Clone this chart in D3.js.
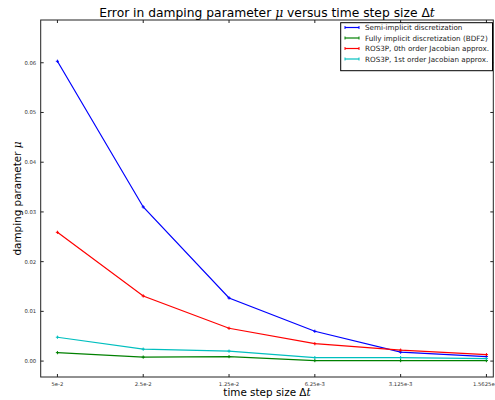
<!DOCTYPE html>
<html><head><meta charset="utf-8">
<script src="https://cdn.jsdelivr.net/npm/d3@7"></script>
<style>body{margin:0;background:#fff}svg{display:block;font-family:"DejaVu Sans",sans-serif}</style>
</head><body><svg id="c" width="495" height="400"></svg>
<script>
const categories = ["5e-2","2.5e-2","1.25e-2","6.25e-3","3.125e-3","1.5625e-3"];
const semiImplicit = [0.0603,0.0310,0.0127,0.0060,0.0018,0.0009];
const fullyImplicit = [0.0017,0.0008,0.0009,0.0001,0.0001,0.0001];
const ros3p0 = [0.0259,0.0131,0.0066,0.0035,0.0022,0.0013];
const ros3p1 = [0.0048,0.0024,0.0020,0.0007,0.0007,0.0005];
const yTicks = [0,0.01,0.02,0.03,0.04,0.05,0.06];
const seriesNames = ["Semi-implicit discretization","Fully implicit discretization (BDF2)","ROS3P, 0th order Jacobian approx.","ROS3P, 1st order Jacobian approx."];
const series = [
  {name:seriesNames[0], values:semiImplicit, color:"#0000ff"},
  {name:seriesNames[1], values:fullyImplicit, color:"#008000"},
  {name:seriesNames[2], values:ros3p0, color:"#ff0000"},
  {name:seriesNames[3], values:ros3p1, color:"#00bfbf"}
];
const svg = d3.select("#c");
const L=40.7, R=493.3, T=20, B=377;
const x = d3.scaleLinear().domain([-0.195,5.08]).range([L,R]);
const y = d3.scaleLinear().domain([-0.0032,0.0686]).range([B,T]);

svg.append("rect").attr("x",L).attr("y",T).attr("width",R-L).attr("height",B-T)
  .attr("fill","none").attr("stroke","#222").attr("stroke-width",1);

const tk=3;
categories.forEach((c,i)=>{
  const px=x(i);
  svg.append("line").attr("x1",px).attr("x2",px).attr("y1",B).attr("y2",B-tk).attr("stroke","#222");
  svg.append("line").attr("x1",px).attr("x2",px).attr("y1",T).attr("y2",T+tk).attr("stroke","#222");
  svg.append("text").attr("x",px).attr("y",386).attr("text-anchor","middle")
    .attr("font-size",5.3).attr("fill","#333").text(c);
});
yTicks.forEach(v=>{
  const py=y(v);
  svg.append("line").attr("x1",L).attr("x2",L+tk).attr("y1",py).attr("y2",py).attr("stroke","#222");
  svg.append("line").attr("x1",R).attr("x2",R-tk).attr("y1",py).attr("y2",py).attr("stroke","#222");
  svg.append("text").attr("x",L-4.5).attr("y",py+1.9).attr("text-anchor","end")
    .attr("font-size",5.3).attr("fill","#333").text(v.toFixed(2));
});

const line = d3.line().x((d,i)=>x(i)).y(d=>y(d));
series.forEach(s=>{
  svg.append("path").datum(s.values).attr("d",line).attr("fill","none")
    .attr("stroke",s.color).attr("stroke-width",1.2);
  s.values.forEach((v,i)=>{
    const px=x(i), py=y(v);
    svg.append("path").attr("d",`M${px-1.6},${py}H${px+1.6}M${px},${py-1.6}V${py+1.6}`)
      .attr("stroke",s.color).attr("stroke-width",1);
  });
});

const title = svg.append("text").attr("x",(L+R)/2).attr("y",17).attr("text-anchor","middle")
  .attr("font-size",12.3).attr("fill","#000");
title.append("tspan").text("Error in damping parameter ");
title.append("tspan").attr("font-style","italic").attr("font-family","DejaVu Serif").text("μ");
title.append("tspan").text(" versus time step size Δ");
title.append("tspan").attr("font-style","italic").attr("font-family","DejaVu Serif").text("t");

const xl = svg.append("text").attr("x",(L+R)/2).attr("y",396).attr("text-anchor","middle")
  .attr("font-size",10.4).attr("fill","#000");
xl.append("tspan").text("time step size Δ");
xl.append("tspan").attr("font-style","italic").attr("font-family","DejaVu Serif").text("t");

const yl = svg.append("text").attr("transform",`translate(21,${(T+B)/2}) rotate(-90)`).attr("text-anchor","middle")
  .attr("font-size",10.4).attr("fill","#000");
yl.append("tspan").text("damping parameter ");
yl.append("tspan").attr("font-style","italic").attr("font-family","DejaVu Serif").text("μ");

const lg = svg.append("g");
lg.append("rect").attr("x",340.7).attr("y",22.7).attr("width",492.5-340.7).attr("height",70.7-22.7)
  .attr("fill","#fff").attr("stroke","#000").attr("stroke-width",1);
series.forEach((s,i)=>{
  const ry = 27.5 + i*10.5;
  lg.append("line").attr("x1",345).attr("x2",359).attr("y1",ry).attr("y2",ry).attr("stroke",s.color).attr("stroke-width",1.2);
  [345,359].forEach(px=>lg.append("path").attr("d",`M${px},${ry-1.5}V${ry+1.5}`).attr("stroke",s.color));
  lg.append("text").attr("x",365).attr("y",ry+2.6).attr("font-size",7.2).attr("fill","#222").text(s.name);
});
</script></body></html>
